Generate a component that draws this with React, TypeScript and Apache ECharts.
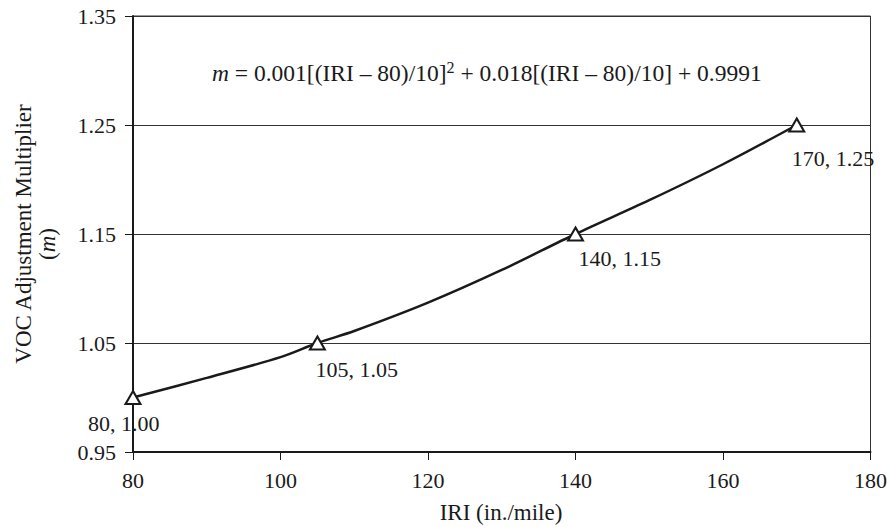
import React, { useEffect, useRef } from "react";
import * as echarts from "echarts";

// Curve (IRI, multiplier)
const curveIRI = [80, 90, 100, 105, 110, 120, 130, 140, 150, 160, 170];
const curveM = [1.0, 1.018, 1.037, 1.05, 1.061, 1.087, 1.117, 1.15, 1.181, 1.214, 1.25];

// Marked points
const markIRI = [80, 105, 140, 170];
const markM = [1.0, 1.05, 1.15, 1.25];
const markLabels = ["80, 1.00", "105, 1.05", "140, 1.15", "170, 1.25"];

// Axis settings
const xMin = 80;
const xMax = 180;
const xStep = 20;
const yMin = 0.95;
const yMax = 1.35;
const yStep = 0.1;

const FONT = "'Liberation Serif', 'Times New Roman', serif";
const INK = "#1a1a1a";

export default function App() {
  const ref = useRef<HTMLDivElement>(null);
  useEffect(() => {
    if (!ref.current) return;
    const chart = echarts.init(ref.current, null, { renderer: "svg" });
    const labelOffsets: [number, number][] = [
      [-45, 26],
      [-2, 26],
      [3, 24],
      [-5, 33],
    ];
    const off = (v: number) => +(v - yMin).toFixed(6);
    chart.setOption({
      animation: false,
      backgroundColor: "#fff",
      grid: {
        left: 133,
        right: 19,
        top: 16,
        bottom: 75,
        show: true,
        borderColor: "#333",
        borderWidth: 1,
      },
      xAxis: {
        type: "value",
        min: xMin,
        max: xMax,
        interval: xStep,
        axisLine: { show: true, onZero: false, lineStyle: { color: INK, width: 2 } },
        axisTick: { show: true, length: 8, lineStyle: { color: INK, width: 1 } },
        splitLine: { show: false },
        axisLabel: { fontFamily: FONT, fontSize: 22, color: INK, margin: 17 },
      },
      yAxis: {
        type: "value",
        min: 0,
        max: +(yMax - yMin).toFixed(6),
        interval: yStep,
        axisLine: { show: true, onZero: false, lineStyle: { color: INK, width: 2 } },
        axisTick: { show: true, length: 8, lineStyle: { color: INK, width: 1 } },
        splitLine: { show: true, lineStyle: { color: "#333", width: 1 } },
        axisLabel: {
          fontFamily: FONT,
          fontSize: 22,
          color: INK,
          margin: 17,
          formatter: (v: number) => (v + yMin).toFixed(2),
        },
      },
      graphic: [
        {
          type: "text",
          x: 23,
          y: 234,
          rotation: Math.PI / 2,
          style: {
            text: "VOC Adjustment Multiplier",
            font: `23px ${FONT}`,
            fill: INK,
            textAlign: "center",
            textVerticalAlign: "middle",
          },
        },
        {
          type: "text",
          x: 47,
          y: 244,
          rotation: Math.PI / 2,
          style: {
            text: "({i|m})",
            font: `23px ${FONT}`,
            fill: INK,
            textAlign: "center",
            textVerticalAlign: "middle",
            rich: { i: { fontStyle: "italic", fontFamily: FONT, fontSize: 23, fill: INK } },
          },
        },
        {
          type: "text",
          x: 501,
          y: 512,
          style: {
            text: "IRI (in./mile)",
            font: `23px ${FONT}`,
            fill: INK,
            textAlign: "center",
            textVerticalAlign: "middle",
          },
        },
        {
          type: "text",
          x: 212,
          y: 73,
          style: {
            text: "{i|m} = 0.001[(IRI – 80)/10]{s|2} + 0.018[(IRI – 80)/10] + 0.9991",
            font: `23.5px ${FONT}`,
            fill: INK,
            textAlign: "left",
            textVerticalAlign: "middle",
            rich: {
              i: { fontStyle: "italic", fontFamily: FONT, fontSize: 23.5, fill: INK },
              s: { fontFamily: FONT, fontSize: 16, fill: INK, verticalAlign: "top", padding: [0, 0, 12, 0] },
            },
          },
        },
      ],
      series: [
        {
          type: "line",
          smooth: 0.3,
          showSymbol: false,
          symbol: "none",
          lineStyle: { color: INK, width: 2.5 },
          data: curveIRI.map((x, i) => [x, off(curveM[i])]),
          z: 2,
        },
        {
          type: "scatter",
          symbol: "triangle",
          symbolSize: [15, 13],
          itemStyle: { color: "#fff", borderColor: INK, borderWidth: 2, opacity: 1 },
          z: 3,
          data: markIRI.map((x, i) => ({
            value: [x, off(markM[i])],
            label: {
              show: true,
              formatter: markLabels[i],
              position: "inside",
              align: "left",
              verticalAlign: "middle",
              offset: labelOffsets[i],
              fontFamily: FONT,
              fontSize: 22,
              color: INK,
              opacity: 1,
              textBorderWidth: 0,
              textBorderColor: "transparent",
            },
          })),
        },
      ],
    });
    return () => chart.dispose();
  }, []);
  return <div ref={ref} style={{ width: 890, height: 527, position: "fixed", left: 0, top: 0 }} />;
}
